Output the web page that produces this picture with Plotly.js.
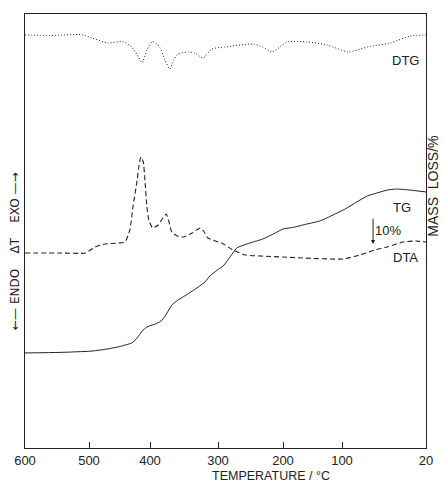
<!DOCTYPE html>
<html>
<head>
<meta charset="utf-8">
<script src="https://cdn.plot.ly/plotly-3.0.1.min.js"></script>
<style>html,body{margin:0;padding:0;background:#fff;}#chart{width:443px;height:483px;}</style>
</head>
<body>
<div id="chart"></div>
<script>
// Temperature scale of the recorder chart (non-linear): labelled temperatures and their chart distance (mm)
const tickTemps = [600, 500, 400, 300, 200, 100, 20];
const chartScaleMm = [0, 64, 125, 193, 258, 317, 401];

// DTG (arbitrary units, 0 = baseline at 600 °C)
const dtgTemp = [600,561,511,495,469,444,430,421,413,405,397,390,385,378,371,365,359,344,334,322,309,289,246,231,217,193,159,125,94,76,54,35,20];
const dtgVal  = [0,-0.5,0.3,-3,-8,-6.7,-12,-20,-27.7,-15,-6.7,-9,-13,-25,-34,-25,-19,-17,-18,-23,-14,-12,-9,-12,-17,-7,-7,-10,-17,-12,-8,-1,0];

// DTA (arbitrary units, 0 = baseline at 600 °C)
const dtaTemp = [600,545,506,490,474,452,441,433,428,421,418,415,411,408,405,402,396,388,382,376,372,368,360,351,338,326,321,315,304,294,277,258,235,200,166,99,83,69,57,42,30,20];
const dtaVal  = [0,0,0,6,9,10,11,23,46,73,88,96,91,70,46,33,25,28,34,39,31,21,17,16,20,25,22,15,12,10,3,-2,-3,-4,-5,-6,-2,3,6,11,12,11];

// TG mass loss (%)
const tgTemp = [600,545,495,469,449,430,421,413,405,397,390,382,375,368,359,349,338,329,319,312,301,292,285,277,271,251,231,212,200,180,166,137,115,97,86,76,67,57,48,35,20];
const tgLoss = [59.6,59.4,58.9,58.1,57.2,55.9,54.1,51.5,50.0,49.3,48.7,47.4,44.8,41.9,40.0,38.5,36.7,35.2,33.3,31.1,28.9,27.4,25.2,22.6,20.7,18.9,17.4,15.2,13.7,13.0,12.2,10.7,8.5,6.3,3.7,1.5,0.4,-0.7,-1.1,-0.7,0];

function toChart(t) {
  for (let i = 0; i < tickTemps.length - 1; i++) {
    const a = tickTemps[i], b = tickTemps[i + 1];
    if (t <= a && t >= b) {
      return chartScaleMm[i] + (a - t) / (a - b) * (chartScaleMm[i + 1] - chartScaleMm[i]);
    }
  }
  return t > tickTemps[0] ? chartScaleMm[0] : chartScaleMm[chartScaleMm.length - 1];
}

const ink = '#222';
const traces = [
  {x: dtgTemp.map(toChart), y: dtgVal, yaxis: 'y3', mode: 'lines', name: 'DTG',
   line: {color: ink, width: 1, dash: '1px,2px', shape: 'spline', smoothing: 0.6}, hoverinfo: 'skip'},
  {x: dtaTemp.map(toChart), y: dtaVal, yaxis: 'y', mode: 'lines', name: 'DTA',
   line: {color: ink, width: 1.1, dash: '5px,3px', shape: 'spline', smoothing: 0.5}, hoverinfo: 'skip'},
  {x: tgTemp.map(toChart), y: tgLoss, yaxis: 'y2', mode: 'lines', name: 'TG',
   line: {color: ink, width: 1, shape: 'spline', smoothing: 0.5}, hoverinfo: 'skip'}
];

const F = 'Liberation Sans, Arial, sans-serif';
const FA = 'DejaVu Sans, sans-serif';
function lab(x, y, text, extra) {
  return Object.assign({xref: 'paper', yref: 'paper', x: x, y: y, text: text, showarrow: false,
    xanchor: 'center', yanchor: 'middle', font: {size: 13}}, extra || {});
}
const layout = {
  width: 443, height: 483,
  margin: {l: 25, r: 17, t: 14, b: 35},
  paper_bgcolor: '#fff', plot_bgcolor: '#fff',
  showlegend: false,
  font: {family: F, color: ink, size: 13},
  xaxis: {
    range: [chartScaleMm[0], chartScaleMm[chartScaleMm.length - 1]],
    tickmode: 'array', tickvals: chartScaleMm, ticktext: tickTemps.map(String),
    ticks: 'inside', ticklen: 6, tickcolor: ink, tickwidth: 1,
    showline: true, linecolor: ink, linewidth: 1.2, mirror: true,
    showgrid: false, zeroline: false,
    tickfont: {family: F, size: 13, color: ink}
  },
  yaxis: {
    range: [-195, 239], showticklabels: false, ticks: '',
    showline: true, linecolor: ink, linewidth: 1.2, mirror: true,
    showgrid: false, zeroline: false
  },
  yaxis2: {
    range: [94.8, -65.9], overlaying: 'y', side: 'right', visible: false,
    showgrid: false, zeroline: false
  },
  yaxis3: {
    range: [-413, 21], overlaying: 'y', visible: false,
    showgrid: false, zeroline: false
  },
  annotations: [
    lab(0.613, -0.064, 'TEMPERATURE / \u00B0C', {font: {size: 12.5}}),
    lab(-0.025, 0.454, '\u2190\u2014 ENDO    \u0394T    EXO \u2014\u2192', {textangle: -90, font: {family: FA, size: 12}}),
    lab(1.017, 0.604, 'MASS  LOSS/%', {textangle: -90, font: {size: 14}}),
    lab(0.948, 0.892, 'DTG'),
    lab(0.940, 0.555, 'TG'),
    lab(0.948, 0.439, 'DTA'),
    lab(0.905, 0.502, '10%'),
    {xref: 'paper', yref: 'paper', x: 0.868, y: 0.470, ax: 0, ay: -27, text: '', showarrow: true,
     arrowhead: 2, arrowsize: 0.8, arrowwidth: 1, arrowcolor: ink}
  ]
};

Plotly.newPlot('chart', traces, layout, {staticPlot: true, displayModeBar: false});
</script>
</body>
</html>
